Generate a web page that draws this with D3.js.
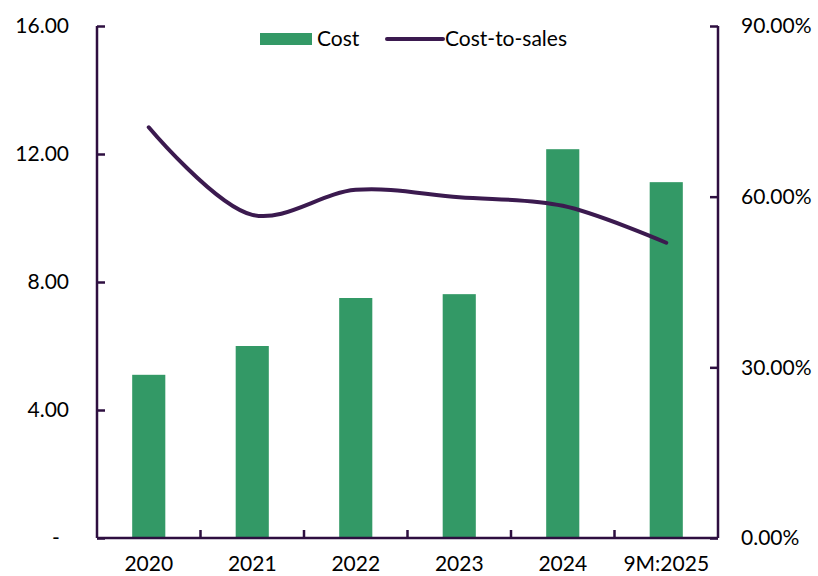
<!DOCTYPE html>
<html>
<head>
<meta charset="utf-8">
<script src="https://cdn.jsdelivr.net/npm/d3@7"></script>
<style>
  html, body { margin: 0; padding: 0; background: #fff; }
  svg text { font-family: Lato, "Open Sans", "Liberation Sans", sans-serif; fill: #000; }
</style>
</head>
<body>
<svg id="chart" width="818" height="576"></svg>
<script>
// Cost (left axis) and cost-to-sales ratio (right axis, %)
const categories = ["2020", "2021", "2022", "2023", "2024", "9M:2025"];
const cost = [5.1, 6.0, 7.5, 7.62, 12.15, 11.12];
const costToSales = [72.2, 56.8, 61.2, 59.9, 58.4, 51.9];
const leftTicks = [0, 4, 8, 12, 16];
const rightTicks = [0, 30, 60, 90];

const barColor = "#339966";
const lineColor = "#3b1a4f";
const axisColor = "#2e0f40";
const fontSize = 21;

const svg = d3.select("#chart");
const margin = { left: 97, right: 100, top: 26, bottom: 38 };
const W = 818, H = 576;

const x = d3.scaleBand().domain(categories).range([margin.left, W - margin.right]);
const yL = d3.scaleLinear().domain([0, 16]).range([H - margin.bottom, margin.top]);
const yR = d3.scaleLinear().domain([0, 90]).range([H - margin.bottom, margin.top]);

// Bars
const barW = x.bandwidth() * 0.32;
svg.append("g").selectAll("rect").data(categories).join("rect")
  .attr("x", (d) => x(d) + x.bandwidth() / 2 - barW / 2)
  .attr("width", barW)
  .attr("y", (d, i) => yL(cost[i]))
  .attr("height", (d, i) => yL(0) - yL(cost[i]))
  .attr("fill", barColor);

// Smoothed ratio line
const line = d3.line()
  .x((d, i) => x(categories[i]) + x.bandwidth() / 2)
  .y((d) => yR(d))
  .curve(d3.curveCatmullRom.alpha(0.5));
svg.append("path").datum(costToSales)
  .attr("d", line)
  .attr("fill", "none")
  .attr("stroke", lineColor)
  .attr("stroke-width", 4)
  .attr("stroke-linecap", "round");

// Left axis
const fmtL = (d) => d === 0 ? "-" : d3.format(".2f")(d);
const gL = svg.append("g").attr("transform", `translate(${margin.left},0)`)
  .call(d3.axisRight(yL).tickValues(leftTicks).tickSize(8).tickFormat(""));
gL.select(".domain").remove();
gL.selectAll(".tick line").attr("stroke", axisColor).attr("stroke-width", 2.5);
svg.append("g").selectAll("text").data(leftTicks).join("text")
  .attr("x", (d) => d === 0 ? 56 : 69)
  .attr("y", (d) => yL(d))
  .attr("dy", "0.35em")
  .attr("text-anchor", (d) => d === 0 ? "middle" : "end")
  .attr("font-size", fontSize)
  .text(fmtL);

// Right axis
const gR = svg.append("g").attr("transform", `translate(${W - margin.right},0)`)
  .call(d3.axisLeft(yR).tickValues(rightTicks).tickSize(8).tickFormat(""));
gR.select(".domain").remove();
gR.selectAll(".tick line").attr("stroke", axisColor).attr("stroke-width", 2.5);
svg.append("g").selectAll("text").data(rightTicks).join("text")
  .attr("x", 741)
  .attr("y", (d) => yR(d))
  .attr("dy", "0.35em")
  .attr("text-anchor", "start")
  .attr("font-size", fontSize)
  .text((d) => d3.format(".2f")(d) + "%");

// Bottom axis with ticks at category boundaries
const bounds = categories.slice(1).map((c) => x(c));
svg.append("g").selectAll("line").data(bounds).join("line")
  .attr("x1", (d) => d).attr("x2", (d) => d)
  .attr("y1", yL(0)).attr("y2", yL(0) - 8)
  .attr("stroke", axisColor).attr("stroke-width", 2.5);
svg.append("g").selectAll("text").data(categories).join("text")
  .attr("x", (d) => x(d) + x.bandwidth() / 2)
  .attr("y", 571)
  .attr("text-anchor", "middle")
  .attr("font-size", fontSize)
  .text((d) => d);

// Axis frame lines
const frame = svg.append("g").attr("stroke", axisColor).attr("stroke-width", 2.5).attr("fill", "none");
frame.append("line").attr("x1", margin.left).attr("x2", margin.left).attr("y1", yL(16)).attr("y2", yL(0));
frame.append("line").attr("x1", W - margin.right).attr("x2", W - margin.right).attr("y1", yR(90)).attr("y2", yR(0));
frame.append("line").attr("x1", margin.left).attr("x2", W - margin.right).attr("y1", yL(0)).attr("y2", yL(0));

// Legend
const lg = svg.append("g");
lg.append("rect").attr("x", 260).attr("y", 33).attr("width", 52).attr("height", 12).attr("fill", barColor);
lg.append("text").attr("x", 317).attr("y", 39).attr("dy", "0.35em").attr("font-size", fontSize).text("Cost");
lg.append("line").attr("x1", 387).attr("x2", 443).attr("y1", 39).attr("y2", 39)
  .attr("stroke", lineColor).attr("stroke-width", 4).attr("stroke-linecap", "round");
lg.append("text").attr("x", 445).attr("y", 39).attr("dy", "0.35em").attr("font-size", fontSize).text("Cost-to-sales");
</script>
</body>
</html>
